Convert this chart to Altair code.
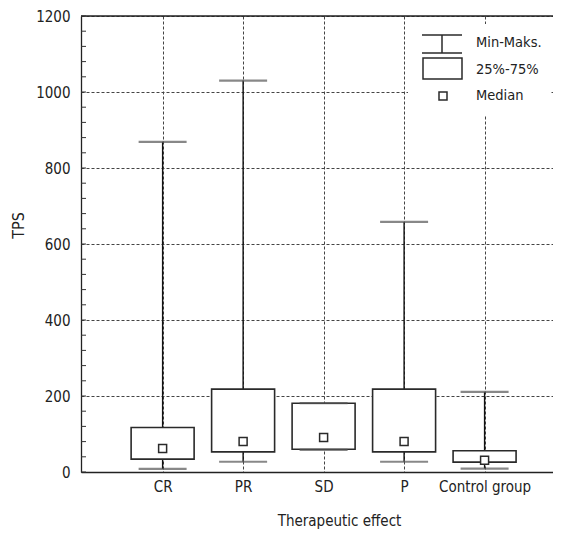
import altair as alt
import pandas as pd

CATEGORIES = ["CR", "PR", "SD", "P", "Control group"]
MIN_VALS = [8, 27, 58, 27, 9]
Q1_VALS = [34, 53, 60, 53, 26]
MEDIAN_VALS = [62, 80, 91, 80, 31]
Q3_VALS = [117, 218, 181, 218, 56]
MAX_VALS = [869, 1030, 181, 658, 211]

LEGEND_LABELS = ["Min-Maks.", "25%-75%", "Median"]
Y_TICKS = [0, 200, 400, 600, 800, 1000, 1200]
Y_MINOR = list(range(0, 1201, 40))
Y_MAX = 1200

FONT = "DejaVu Sans Condensed"
DARK = "#2a2a2a"

df = pd.DataFrame({
    "group": CATEGORIES,
    "min": MIN_VALS,
    "q1": Q1_VALS,
    "median": MEDIAN_VALS,
    "q3": Q3_VALS,
    "max": MAX_VALS,
})
minor_df = pd.DataFrame({"v": Y_MINOR})

x_scale = alt.Scale(type="point", domain=CATEGORIES, padding=0.932, align=0.544)
y_scale = alt.Scale(domain=[0, Y_MAX], nice=False, zero=True)

x_enc = alt.X(
    "group:N",
    scale=x_scale,
    sort=CATEGORIES,
    axis=alt.Axis(
        title="Therapeutic effect",
        labelAngle=0,
        tickSize=0,
        labelPadding=7,
        labelFontSize=15,
        titleFontSize=15,
        titleFontWeight="normal",
        titleX=258,
        titleY=53,
        titleBaseline="alphabetic",
        grid=True,
        gridDash=[3, 2],
        gridColor="#444",
        gridWidth=1,
        domainColor="#222",
        domainWidth=1.3,
    ),
)

y_axis = alt.Axis(
    title="TPS",
    values=Y_TICKS,
    format="d",
    tickSize=0,
    labelPadding=11,
    labelFontSize=15,
    titleFontSize=16,
    titleFontWeight="normal",
    titleX=-63,
    titleY=209,
    titleAlign="center",
    titleBaseline="middle",
    grid=True,
    gridDash=[3, 2],
    gridColor="#444",
    gridWidth=1,
    domainColor="#222",
    domainWidth=1.3,
)

base = alt.Chart(df)

stems = base.mark_rule(color="#111", strokeWidth=1.4).encode(
    x=x_enc,
    y=alt.Y("min:Q", scale=y_scale, axis=y_axis),
    y2="max:Q",
)

boxes = base.mark_bar(size=63, fill="white", stroke=DARK, strokeWidth=1.6).encode(
    x=alt.X("group:N", sort=CATEGORIES),
    y=alt.Y("q1:Q"),
    y2="q3:Q",
)

caps_max = base.mark_tick(size=48, thickness=2.2, color="#555", orient="horizontal").encode(
    x=alt.X("group:N", sort=CATEGORIES),
    y=alt.Y("max:Q"),
)
caps_min = base.mark_tick(size=48, thickness=2.2, color="#555", orient="horizontal").encode(
    x=alt.X("group:N", sort=CATEGORIES),
    y=alt.Y("min:Q"),
)

medians = base.mark_point(
    shape="square", filled=False, fill="white", stroke=DARK, strokeWidth=1.5, size=64, opacity=1
).encode(
    x=alt.X("group:N", sort=CATEGORIES),
    y=alt.Y("median:Q"),
)

top_frame = alt.Chart(pd.DataFrame({"v": [Y_MAX]})).mark_rule(
    color="#222", strokeWidth=1.3
).encode(y=alt.Y("v:Q"))

minor_ticks = alt.Chart(minor_df).mark_rule(color="#333", strokeWidth=1).encode(
    y=alt.Y("v:Q"),
    x=alt.value(0),
    x2=alt.value(5),
)

# ---- hand-made legend (pixel positions relative to the plot area) ----
def one(label):
    return alt.Chart(pd.DataFrame({"label": [label]}))

leg_bg = one(LEGEND_LABELS[0]).mark_rect(fill="white", stroke=None).encode(
    x=alt.value(327), x2=alt.value(470), y=alt.value(8), y2=alt.value(100)
)
leg_i_top = one(LEGEND_LABELS[0]).mark_rule(color=DARK, strokeWidth=1.5).encode(
    x=alt.value(341), x2=alt.value(381), y=alt.value(19)
)
leg_i_bot = one(LEGEND_LABELS[0]).mark_rule(color=DARK, strokeWidth=1.5).encode(
    x=alt.value(341), x2=alt.value(381), y=alt.value(37)
)
leg_i_mid = one(LEGEND_LABELS[0]).mark_rule(color=DARK, strokeWidth=1.5).encode(
    x=alt.value(361), y=alt.value(19), y2=alt.value(37)
)
leg_box = one(LEGEND_LABELS[1]).mark_rect(fill="white", stroke=DARK, strokeWidth=1.5).encode(
    x=alt.value(342), x2=alt.value(381), y=alt.value(42), y2=alt.value(63)
)
leg_sq = one(LEGEND_LABELS[2]).mark_point(
    shape="square", filled=False, fill="white", stroke=DARK, strokeWidth=1.5, size=64, opacity=1
).encode(x=alt.value(362), y=alt.value(80))

leg_texts = [
    one(lab).mark_text(
        align="left", baseline="middle", font=FONT, fontSize=14.5, color="#222"
    ).encode(text="label:N", x=alt.value(395), y=alt.value(yy))
    for lab, yy in zip(LEGEND_LABELS, [27, 54, 80])
]

chart = alt.layer(
    stems, boxes, caps_max, caps_min, medians, top_frame, minor_ticks,
    leg_bg, leg_i_top, leg_i_bot, leg_i_mid, leg_box, leg_sq, *leg_texts,
).properties(
    width=472,
    height=456,
    autosize=alt.AutoSizeParams(type="none"),
    padding={"left": 73, "top": 8, "right": 0, "bottom": 58},
).configure_view(stroke=None).configure(
    font=FONT,
).configure_axis(
    labelFont=FONT,
    titleFont=FONT,
    labelColor="#222",
    titleColor="#222",
)

chart.save("out.html", embed_options={"renderer": "svg", "actions": False})
